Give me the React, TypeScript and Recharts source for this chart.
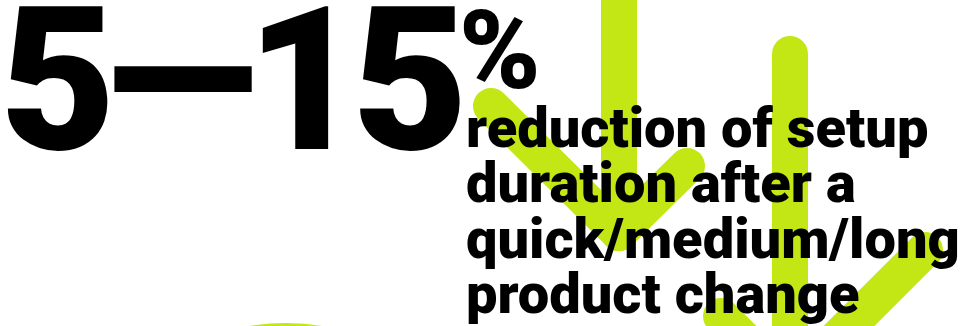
import { LineChart, Line, XAxis, YAxis, ReferenceDot } from 'recharts';

const W = 971;
const H = 326;
const LIME = '#c3e714';

// arrow strokes, in page pixels (x right, y down)
const leftShaft = [{ x: 619, y: -40 }, { x: 619, y: 233 }];
const leftArmA = [{ x: 491, y: 106 }, { x: 619, y: 233 }];
const leftArmB = [{ x: 687, y: 166 }, { x: 619, y: 233 }];
const rightShaft = [{ x: 790, y: 54 }, { x: 790, y: 385 }];
const rightArmA = [{ x: 721, y: 316 }, { x: 790, y: 385 }];
const rightArmB = [{ x: 925, y: 250 }, { x: 790, y: 385 }];
const strokes = [leftShaft, leftArmA, leftArmB, rightShaft, rightArmA, rightArmB];

const blob = { x: 286, y: 540 };

const headline = '5—15';
const unit = '%';
const captionLines = ['reduction of setup', 'duration after a', 'quick/medium/long', 'product change'];
const captionBaselines = [147, 202, 258, 313];

export default function App() {
  return (
    <div style={{ position: 'fixed', left: 0, top: 0, width: W, height: H, background: '#fff', overflow: 'hidden' }}>
      <LineChart width={W} height={H} margin={{ top: 0, right: 0, bottom: 0, left: 0 }}>
        <XAxis type="number" dataKey="x" domain={[0, W]} hide allowDataOverflow />
        <YAxis type="number" domain={[0, H]} reversed hide allowDataOverflow width={0} />
        <ReferenceDot x={blob.x} y={blob.y} r={217} fill={LIME} stroke="none" ifOverflow="visible" />
        {strokes.map((seg, i) => (
          <Line
            key={`arrow-${i}`}
            data={seg}
            dataKey="y"
            stroke={LIME}
            strokeWidth={36}
            strokeLinecap="round"
            dot={false}
            activeDot={false}
            isAnimationActive={false}
          />
        ))}
      </LineChart>
      <svg
        width={W}
        height={H}
        style={{ position: 'absolute', left: 0, top: 0, pointerEvents: 'none' }}
        fontFamily="Roboto, 'Noto Sans', sans-serif"
      >
        <text x={0} y={149} fontSize={200} fontWeight={900} letterSpacing={-10} fill="#000">
          {headline}
        </text>
        <text x={459} y={88} fontSize={110} fontWeight={900} fill="#000">
          {unit}
        </text>
        {captionLines.map((t, i) => (
          <text key={t} x={466} y={captionBaselines[i]} fontSize={56} fontWeight={900} fill="#000">
            {t}
          </text>
        ))}
      </svg>
    </div>
  );
}
